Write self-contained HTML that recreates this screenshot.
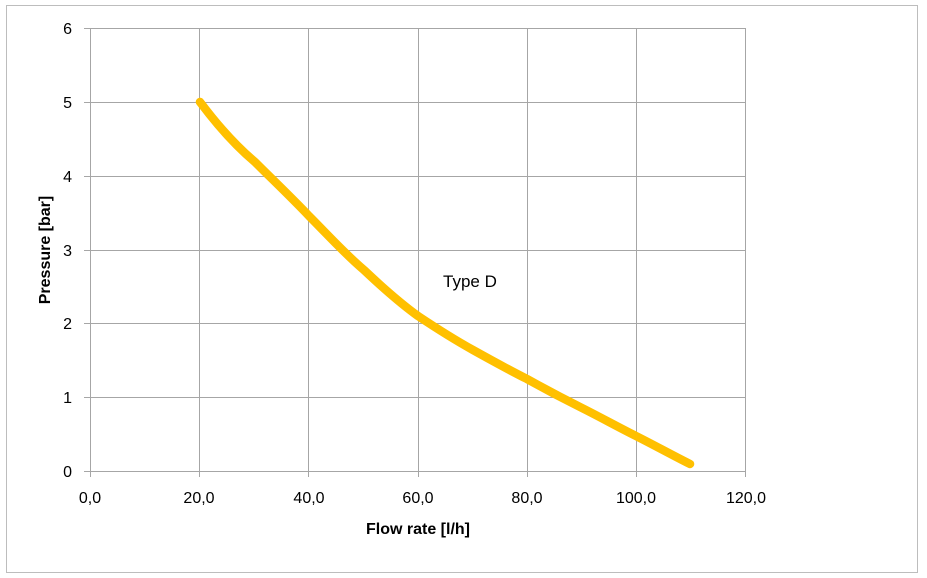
<!DOCTYPE html>
<html><head><style>body{margin:0;background:#fff}svg{display:block}</style></head>
<body>
<svg width="927" height="578" xmlns="http://www.w3.org/2000/svg" font-family="'Liberation Sans',sans-serif">
<rect x="6.5" y="5.5" width="911" height="567" fill="#fff" stroke="#bdbdbd" stroke-width="1"/>
<g stroke="#a6a6a6" stroke-width="1">
<line x1="84" y1="28.5" x2="745" y2="28.5"/>
<line x1="84" y1="102.5" x2="745" y2="102.5"/>
<line x1="84" y1="176.5" x2="745" y2="176.5"/>
<line x1="84" y1="250.5" x2="745" y2="250.5"/>
<line x1="84" y1="323.5" x2="745" y2="323.5"/>
<line x1="84" y1="397.5" x2="745" y2="397.5"/>
<line x1="84" y1="471.5" x2="745" y2="471.5"/>
<line x1="90.5" y1="28" x2="90.5" y2="477"/>
<line x1="199.5" y1="28" x2="199.5" y2="477"/>
<line x1="308.5" y1="28" x2="308.5" y2="477"/>
<line x1="418.5" y1="28" x2="418.5" y2="477"/>
<line x1="527.5" y1="28" x2="527.5" y2="477"/>
<line x1="636.5" y1="28" x2="636.5" y2="477"/>
<line x1="745.5" y1="28" x2="745.5" y2="477"/>
</g>
<g font-size="16" fill="#000" text-anchor="end">
<text x="72" y="34">6</text><text x="72" y="108">5</text><text x="72" y="182">4</text>
<text x="72" y="256">3</text><text x="72" y="329">2</text><text x="72" y="403">1</text><text x="72" y="477">0</text>
</g>
<g font-size="16" fill="#000" text-anchor="middle">
<text x="90" y="503">0,0</text><text x="199" y="503">20,0</text><text x="309" y="503">40,0</text>
<text x="418" y="503">60,0</text><text x="527" y="503">80,0</text><text x="636" y="503">100,0</text><text x="746" y="503">120,0</text>
</g>
<text x="418" y="534" font-size="16" font-weight="bold" text-anchor="middle">Flow rate [l/h]</text>
<text transform="translate(50,250) rotate(-90)" font-size="16" font-weight="bold" text-anchor="middle">Pressure [bar]</text>
<text x="443" y="287" font-size="17">Type D</text>
<path d="M200,102 C218,126 236,146 255,162 C273,180 291,197 309,216 C327,234 345,254 364,270 C382,287 400,303 418,316 C436,328 455,340 473,350 C491,360 509,370 527,379 C545,389 564,399 582,408 C600,417 618,427 636,436 C654,445 672,455 690,464" fill="none" stroke="#ffc000" stroke-width="8.5" stroke-linecap="round" stroke-linejoin="round"/>
</svg>
</body></html>
